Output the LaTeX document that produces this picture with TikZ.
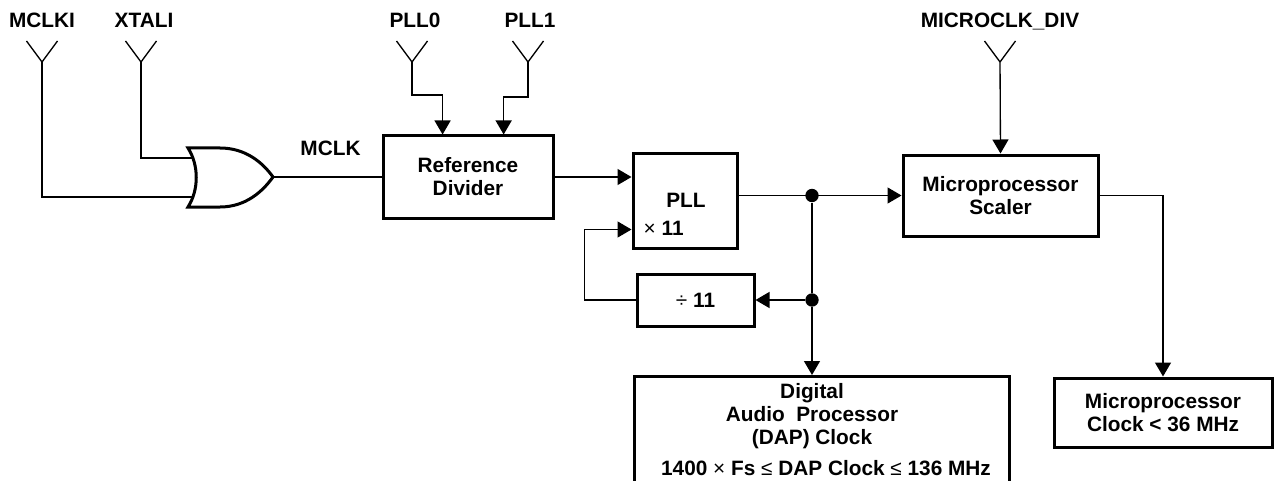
\documentclass[tikz,border=0pt]{standalone}
\usepackage{fontspec}
\setmainfont{Liberation Sans}
\usetikzlibrary{arrows.meta,calc}
\tikzset{
  blk/.style={draw,line width=2.25pt,inner sep=0pt,align=center},
  arr/.style={-{Triangle[length=10.5pt,width=12pt]}},
  dot/.style={circle,fill,inner sep=0pt,minimum size=10pt},
}
\newcommand{\thinsym}[1]{{\mdseries #1}}
\begin{document}
\begin{tikzpicture}[x=0.75pt,y=-0.75pt,line width=1pt,font=\bfseries\fontsize{15.6}{17.3}\selectfont]
\useasboundingbox (0,0) rectangle (1276,481);
% input pins
\foreach \name/\px/\lbl/\lx in {mclki/42/MCLKI/42,xtali/141/XTALI/144,pll0/412/PLL0/415,pll1/528/PLL1/530,mdiv/1000/MICROCLK\_DIV/1000} {
  \coordinate (\name) at (\px,62);
  \draw (\name) -- ++(-15.5,-21) (\name) -- ++(15.5,-21);
  \node[anchor=base] (\name-lbl) at (\lx,27.5) {\lbl};
}
% or gate
\draw[line width=2.25pt] (188,148) -- (220,148) .. controls (246,148) and (263,163) .. (273,177)
  .. controls (263,191) and (246,207) .. (220,207) -- (188,207) .. controls (199,190) and (199,165) .. cycle;
\coordinate (orA) at (192,158);
\coordinate (orB) at (192,197);
\coordinate (orY) at (273,177);
\node[anchor=base] (mclk) at (330.5,156) {MCLK};
% blocks
\node[blk,minimum width=127.5pt,minimum height=61.5pt] (refdiv) at (468,177) {Reference\\Divider};
\node[blk,minimum width=78pt,minimum height=71.25pt] (pll) at (685,200.5) {};
\node (pll-txt) at (686,200.5) {PLL};
\node[anchor=base west,inner sep=0pt] (pll-mul) at (643,235) {\thinsym{×} 11};
\node[blk,minimum width=87.75pt,minimum height=39pt] (div) at (695.5,300) {\thinsym{÷} 11};
\node[blk,minimum width=146.25pt,minimum height=60.75pt] (scaler) at (1000.5,195.5) {Microprocessor\\Scaler};
\node[blk,minimum width=163.5pt,minimum height=51.75pt] (uclk) at (1163,412.5) {Microprocessor\\Clock < 36 MHz};
\node[blk,minimum width=281.25pt,minimum height=90pt,anchor=north] (dap) at (821.5,375) {};
\node[align=center] (dap-txt) at (812,416) {Digital\\Audio\ \ Processor\\(DAP) Clock};
\node[anchor=base] (dap-rng) at (826,475) {1400 \thinsym{×} Fs \thinsym{≤} DAP Clock \thinsym{≤} 136 MHz};
\node[dot] (tap1) at (812,195.5) {};
\node[dot] (tap2) at (812,300) {};
% wires
\draw (xtali) |- (orA);
\draw (mclki) |- (orB);
\draw (orY) -- (refdiv.west);
\draw[arr] (pll0) -- ++(0,33) -| ($(refdiv.north west)!0.353!(refdiv.north east)$);
\draw[arr] (pll1) -- ++(0,35) -| ($(refdiv.north west)!0.706!(refdiv.north east)$);
\draw[arr] (refdiv.east) -- (refdiv.east -| pll.west);
\draw[arr] (pll.east |- tap1) -- (scaler.west);
\draw (tap1) -- (tap2);
\draw[arr] (tap2) -- (div.east);
\draw[arr] (tap2) -- (tap2 |- dap.north);
\draw[arr] (div.west) -- ++(-51,0) |- ($(pll.south west)+(0,-20)$);
\draw[arr] (mdiv) -- (scaler.north);
\draw[arr] (scaler.east) -| (uclk.north);
\end{tikzpicture}
\end{document}
